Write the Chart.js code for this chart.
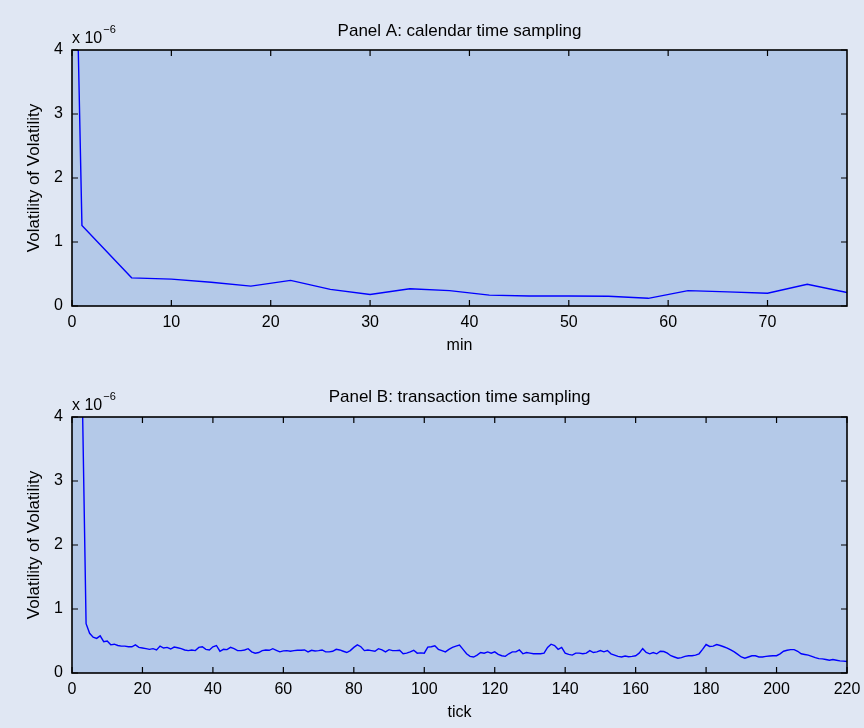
<!DOCTYPE html>
<html lang="en">
<head>
<meta charset="UTF-8">
<title>Volatility of Volatility</title>
<script src="https://cdn.jsdelivr.net/npm/chart.js"></script>
<style>
    body { margin: 0; background: #e0e7f3; }
    canvas { display: block; }
</style>
</head>
<body>

<canvas id="panelA" width="864" height="367"></canvas>
<canvas id="panelB" width="864" height="361"></canvas>

<script>
    // Panel A: calendar time sampling (values in units of 1e-6)
    const minutesA = [0, 1, 6, 10, 14, 18, 22, 26, 30, 34, 38, 42, 46, 50, 54, 58, 62, 66, 70, 74, 78];
    const vovA = [8.7, 1.26, 0.44, 0.42, 0.37, 0.31, 0.40, 0.26, 0.18, 0.27, 0.24,
                  0.17, 0.157, 0.157, 0.152, 0.12, 0.24, 0.22, 0.20, 0.34, 0.21];

    // Panel B: transaction time sampling, one value per tick 1..220 (units of 1e-6)
    const vovB = [
        14, 7.5, 4.1, 0.77, 0.62, 0.56, 0.54, 0.58, 0.49, 0.50,
        0.44, 0.45, 0.43, 0.42, 0.42, 0.41, 0.41, 0.44, 0.40, 0.39,
        0.38, 0.37, 0.38, 0.36, 0.42, 0.39, 0.40, 0.375, 0.405, 0.395,
        0.38, 0.36, 0.35, 0.36, 0.35, 0.40, 0.41, 0.37, 0.36, 0.41,
        0.43, 0.34, 0.37, 0.365, 0.40, 0.38, 0.35, 0.35, 0.36, 0.38,
        0.33, 0.31, 0.32, 0.35, 0.36, 0.355, 0.38, 0.355, 0.33, 0.345,
        0.35, 0.34, 0.35, 0.355, 0.355, 0.36, 0.33, 0.355, 0.345, 0.35,
        0.36, 0.33, 0.33, 0.34, 0.37, 0.36, 0.34, 0.32, 0.35, 0.40,
        0.44, 0.41, 0.35, 0.36, 0.35, 0.34, 0.38, 0.36, 0.33, 0.365,
        0.35, 0.35, 0.355, 0.30, 0.31, 0.33, 0.355, 0.31, 0.315, 0.31,
        0.405, 0.41, 0.425, 0.37, 0.35, 0.33, 0.37, 0.40, 0.42, 0.435,
        0.37, 0.30, 0.26, 0.25, 0.28, 0.32, 0.31, 0.33, 0.31, 0.33,
        0.29, 0.27, 0.26, 0.30, 0.33, 0.33, 0.36, 0.30, 0.32, 0.31,
        0.30, 0.30, 0.30, 0.31, 0.40, 0.45, 0.43, 0.37, 0.40, 0.31,
        0.29, 0.28, 0.31, 0.31, 0.30, 0.31, 0.35, 0.32, 0.33, 0.35,
        0.33, 0.35, 0.30, 0.28, 0.26, 0.25, 0.265, 0.255, 0.26, 0.27,
        0.31, 0.38, 0.32, 0.30, 0.32, 0.30, 0.34, 0.335, 0.31, 0.27,
        0.25, 0.23, 0.24, 0.26, 0.27, 0.27, 0.28, 0.30, 0.37, 0.445,
        0.415, 0.42, 0.445, 0.43, 0.41, 0.39, 0.36, 0.33, 0.29, 0.25,
        0.23, 0.25, 0.27, 0.27, 0.25, 0.25, 0.26, 0.265, 0.27, 0.27,
        0.30, 0.34, 0.355, 0.365, 0.365, 0.34, 0.30, 0.29, 0.28, 0.26,
        0.24, 0.225, 0.22, 0.21, 0.20, 0.21, 0.20, 0.19, 0.185, 0.18
    ];
    const ticksB = vovB.map((_, i) => i + 1);

    const yTicks = [0, 1, 2, 3, 4];
    const yExponent = -6;

    const FONT = '"Liberation Sans", Arial, sans-serif';
    const PLOT_BG = '#b4c9e8';

    // plot background, boxed frame with inward ticks (matlab style), "x 10^-6" label
    const frameAndTicks = {
        id: 'frameAndTicks',
        beforeDraw(chart) {
            const { ctx, chartArea: a } = chart;
            ctx.save();
            ctx.fillStyle = PLOT_BG;
            ctx.fillRect(a.left, a.top, a.width, a.height);
            ctx.restore();
        },
        afterDatasetsDraw(chart) {
            const { ctx, chartArea: a, scales: { x, y } } = chart;
            const len = 6;
            ctx.save();
            ctx.strokeStyle = '#000';
            ctx.lineWidth = 1.2;
            ctx.beginPath();
            x.ticks.forEach(t => {
                const px = x.getPixelForValue(t.value);
                ctx.moveTo(px, a.bottom); ctx.lineTo(px, a.bottom - len);
                ctx.moveTo(px, a.top); ctx.lineTo(px, a.top + len);
            });
            y.ticks.forEach(t => {
                const py = y.getPixelForValue(t.value);
                ctx.moveTo(a.left, py); ctx.lineTo(a.left + len, py);
                ctx.moveTo(a.right, py); ctx.lineTo(a.right - len, py);
            });
            ctx.stroke();
            ctx.lineWidth = 1.6;
            ctx.strokeRect(a.left, a.top, a.width, a.height);

            ctx.fillStyle = '#000';
            ctx.textBaseline = 'alphabetic';
            ctx.font = '16px ' + FONT;
            ctx.fillText('x 10', a.left, a.top - 7);
            const w = ctx.measureText('x 10').width;
            ctx.font = '11px ' + FONT;
            ctx.fillText(String(yExponent).replace('-', '\u2212'), a.left + w + 1, a.top - 17);
            ctx.restore();
        }
    };

    function makePanel(id, xs, ys, cfg) {
        const tickFont = { family: FONT, size: 16 };
        return new Chart(document.getElementById(id), {
            type: 'line',
            data: {
                datasets: [{
                    data: xs.map((v, i) => ({ x: v, y: ys[i] })),
                    borderColor: '#0000ff',
                    borderWidth: 1.4,
                    pointRadius: 0,
                    tension: 0,
                    fill: false,
                    clip: 0
                }]
            },
            options: {
                responsive: false,
                animation: false,
                devicePixelRatio: 1,
                layout: { padding: { left: 0, right: 17, top: 0, bottom: 0 } },
                plugins: {
                    legend: { display: false },
                    tooltip: { enabled: false },
                    title: {
                        display: true,
                        fullSize: false,
                        text: cfg.title,
                        color: '#000',
                        font: { family: FONT, size: 17, weight: 'normal', lineHeight: 1.2 },
                        padding: { top: cfg.titleTop, bottom: 50 - cfg.titleTop - 20.4 }
                    }
                },
                scales: {
                    x: {
                        type: 'linear',
                        min: 0,
                        max: cfg.xMax,
                        ticks: { stepSize: cfg.xStep, includeBounds: false, color: '#000', font: tickFont, padding: 7, maxRotation: 0 },
                        grid: { display: false, drawTicks: false },
                        border: { display: false },
                        title: { display: true, text: cfg.xLabel, color: '#000', font: tickFont, padding: { top: 0, bottom: cfg.xTitleBottom } },
                        afterFit(s) { s.height = cfg.xAreaHeight; s.paddingLeft = 0; s.paddingRight = 0; }
                    },
                    y: {
                        min: yTicks[0],
                        max: yTicks[yTicks.length - 1],
                        ticks: { stepSize: 1, color: '#000', font: tickFont, padding: 9 },
                        grid: { display: false, drawTicks: false },
                        border: { display: false },
                        title: { display: true, text: 'Volatility of Volatility', color: '#000', font: { family: FONT, size: 17 }, padding: { top: 24, bottom: 0 } },
                        afterFit(s) { s.width = 72; s.paddingTop = 0; s.paddingBottom = 0; }
                    }
                }
            },
            plugins: [frameAndTicks]
        });
    }

    makePanel('panelA', minutesA, vovA, {
        title: 'Panel A: calendar time sampling', titleTop: 21,
        xLabel: 'min', xMax: 78, xStep: 10, xAreaHeight: 61, xTitleBottom: 12
    });
    makePanel('panelB', ticksB, vovB, {
        title: 'Panel B: transaction time sampling', titleTop: 20,
        xLabel: 'tick', xMax: 220, xStep: 20, xAreaHeight: 55, xTitleBottom: 6
    });
</script>

</body>
</html>
